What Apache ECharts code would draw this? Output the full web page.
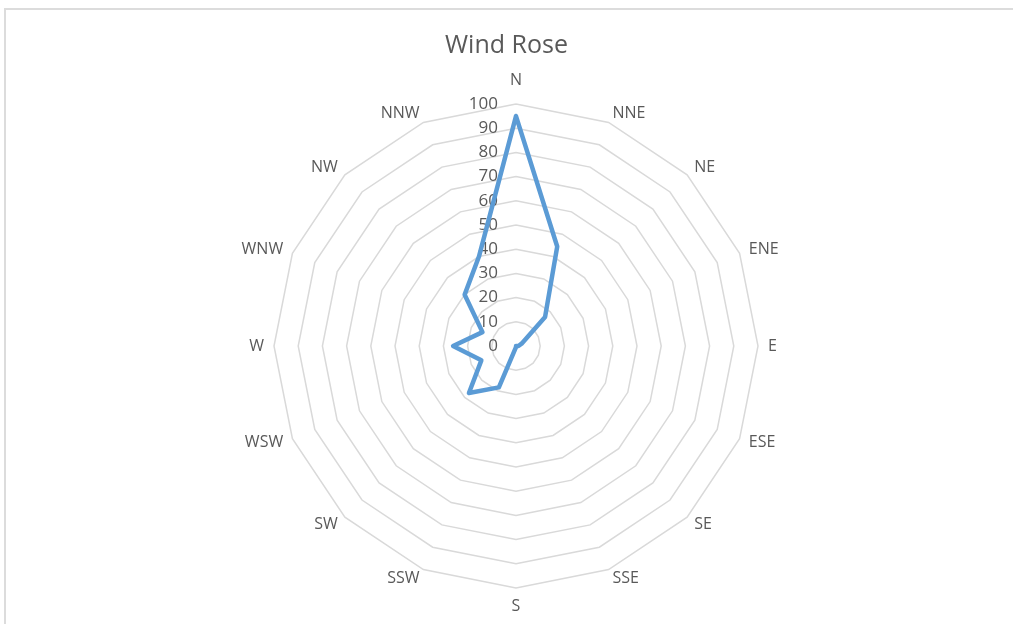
<!DOCTYPE html>
<html>
<head>
<meta charset="utf-8">
<title>Wind Rose</title>
<script src="https://cdn.jsdelivr.net/npm/echarts@6/dist/echarts.min.js"></script>
<style>
  html, body { margin: 0; padding: 0; background: #fff; overflow: hidden; }
  #wrap { position: relative; width: 1013px; height: 624px; }
  #frame {
    position: absolute; left: 4px; top: 8px; width: 1100px; height: 700px;
    border: 2px solid #dcdcdc; box-sizing: border-box;
  }
  #chart { position: absolute; left: 0; top: 0; width: 1013px; height: 624px; }
</style>
</head>
<body>
<div id="wrap">
  <div id="frame"></div>
  <div id="chart"></div>
</div>
<script>
// directions, clockwise from north
const directions = ["N", "NNE", "NE", "ENE", "E", "ESE", "SE", "SSE",
                    "S", "SSW", "SW", "WSW", "W", "WNW", "NW", "NNW"];
const windValues = [95, 44.5, 17, 2.5, 1, 0, 0, 0,
                    0.5, 18.5, 27.5, 15.5, 26, 15, 30, 40];
const tickMin = 0;
const tickMax = 100;
const tickStep = 10;

const cx = 516, cy = 346, R = 242;
const grey = "#595959";

// radar lays indicators out counter-clockwise, so feed N then the rest backwards
const order = [0].concat(directions.map((d, i) => i).slice(1).reverse());
const radarNames = order.map(i => directions[i]);
const radarValues = order.map(i => windValues[i]);

const chart = echarts.init(document.getElementById("chart"));
chart.setOption({
  animation: false,
  title: {
    text: "Wind Rose",
    left: "center",
    top: 28,
    textStyle: { fontFamily: "Open Sans", fontSize: 25, fontWeight: "normal", color: grey }
  },
  radar: {
    center: [cx, cy],
    radius: R,
    startAngle: 90,
    shape: "polygon",
    splitNumber: (tickMax - tickMin) / tickStep,
    indicator: radarNames.map(d => ({ name: d, min: tickMin, max: tickMax })),
    nameGap: 10,
    axisName: {
      fontFamily: "Open Sans", fontSize: 16, color: grey,
      formatter: name => name === "N" ? "{n|N}" : name,
      rich: { n: { fontFamily: "Open Sans", fontSize: 16, color: grey, padding: [0, 0, 6, 0] } }
    },
    axisLine: { show: false },
    axisTick: { show: false },
    axisLabel: { show: false },
    splitArea: { show: false },
    splitLine: { lineStyle: { color: "#d9d9d9", width: 1.5 } }
  },
  // value labels along the north spoke
  grid: { left: cx, right: 1013 - cx - 1, top: cy - R, bottom: 624 - cy },
  xAxis: { type: "value", show: false },
  yAxis: {
    type: "value",
    min: tickMin,
    max: tickMax,
    interval: tickStep,
    axisLine: { show: false },
    axisTick: { show: false },
    splitLine: { show: false },
    axisLabel: { margin: 18, fontFamily: "Open Sans", fontSize: 17, color: grey }
  },
  series: [{
    type: "radar",
    symbol: "none",
    lineStyle: { color: "#5b9bd5", width: 4.5, join: "round", cap: "round" },
    data: [{ value: radarValues, name: "Wind" }]
  }]
});
</script>
</body>
</html>
